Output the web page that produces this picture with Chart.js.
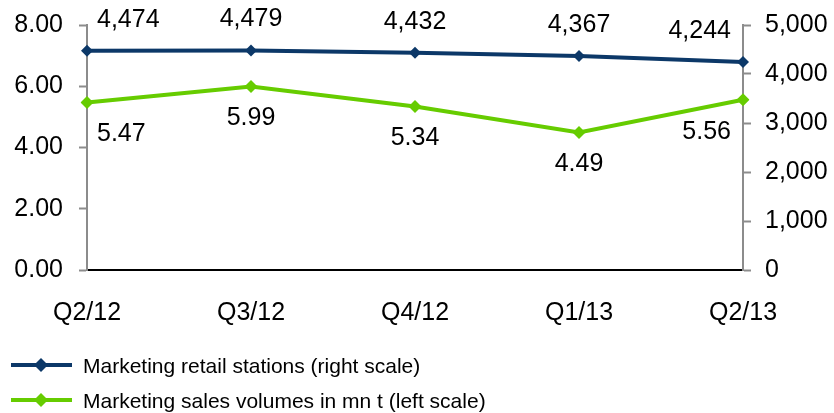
<!DOCTYPE html>
<html>
<head>
<meta charset="utf-8">
<script src="https://cdn.jsdelivr.net/npm/chart.js@4"></script>
<style>
    html, body { margin: 0; padding: 0; background: #fff; }
    canvas { display: block; }
</style>
</head>
<body>
<canvas id="marketingChart" width="834" height="413"></canvas>
<script>
const quarters = ['Q2/12', 'Q3/12', 'Q4/12', 'Q1/13', 'Q2/13'];
const retailStations = [4474, 4479, 4432, 4367, 4244];
const salesVolumes = [5.47, 5.99, 5.34, 4.49, 5.56];
const seriesNames = ['Marketing retail stations (right scale)', 'Marketing sales volumes in mn t (left scale)'];

const navy = 'rgb(12, 56, 104)';
const lime = 'rgb(102, 204, 0)';
const axisGrey = '#8c8c8c';
const fontFamily = '"Liberation Sans", Arial, sans-serif';

Chart.defaults.font.family = fontFamily;
Chart.defaults.font.size = 25;
Chart.defaults.color = '#000';

// fixed widths for the value axes, and no extra room asked for the end labels
function fixYAxis(width) {
    return scale => {
        scale.width = width;
        scale.paddingTop = 0;
        scale.paddingBottom = 0;
    };
}

// value labels above the navy line and below the green one, kept inside the plot
const valueLabels = {
    id: 'valueLabels',
    afterDatasetsDraw(chart) {
        const ctx = chart.ctx;
        const area = chart.chartArea;
        ctx.save();
        ctx.font = '25px ' + fontFamily;
        ctx.fillStyle = '#000';
        ctx.textBaseline = 'middle';
        ctx.textAlign = 'left';
        chart.data.datasets.forEach((ds, di) => {
            const meta = chart.getDatasetMeta(di);
            meta.data.forEach((pt, i) => {
                const text = ds.labelFormat(ds.data[i]);
                const w = ctx.measureText(text).width;
                let x = pt.x - w / 2;
                if (x < area.left + 10) x = area.left + 10;
                if (x + w > area.right - 12) x = area.right - 12 - w;
                const y = pt.y + ds.labelOffset;
                ctx.fillText(text, x, y);
            });
        });
        ctx.restore();
    }
};

// legend stacked under the plot: line with diamond, then the series name
const lineLegend = {
    id: 'lineLegend',
    afterDraw(chart) {
        const ctx = chart.ctx;
        ctx.save();
        ctx.font = '21px ' + fontFamily;
        ctx.textBaseline = 'middle';
        chart.data.datasets.forEach((ds, i) => {
            const y = 365 + i * 35;
            ctx.strokeStyle = ds.borderColor;
            ctx.lineWidth = 4;
            ctx.beginPath();
            ctx.moveTo(11, y);
            ctx.lineTo(72, y);
            ctx.stroke();
            ctx.fillStyle = ds.borderColor;
            ctx.beginPath();
            ctx.moveTo(41, y - 7);
            ctx.lineTo(48, y);
            ctx.lineTo(41, y + 7);
            ctx.lineTo(34, y);
            ctx.closePath();
            ctx.fill();
            ctx.fillStyle = '#000';
            ctx.fillText(seriesNames[i], 83, y + 2);
        });
        ctx.restore();
    }
};

new Chart(document.getElementById('marketingChart'), {
    type: 'line',
    data: {
        labels: quarters,
        datasets: [{
            label: seriesNames[0],
            data: retailStations,
            yAxisID: 'yRight',
            borderColor: navy,
            backgroundColor: navy,
            borderWidth: 4,
            pointStyle: 'rectRot',
            pointRadius: 6,
            pointBorderWidth: 0,
            tension: 0,
            labelOffset: -31,
            labelFormat: v => v.toLocaleString('en-US')
        },
        {
            label: seriesNames[1],
            data: salesVolumes,
            yAxisID: 'yLeft',
            borderColor: lime,
            backgroundColor: lime,
            borderWidth: 4,
            pointStyle: 'rectRot',
            pointRadius: 6.5,
            pointBorderWidth: 0,
            tension: 0,
            labelOffset: 32,
            labelFormat: v => v.toFixed(2)
        }]
    },
    plugins: [valueLabels, lineLegend],
    options: {
        responsive: false,
        animation: false,
        layout: {
            padding: { top: 25, left: 0, right: 0, bottom: 83 }
        },
        plugins: {
            legend: { display: false },
            tooltip: { enabled: false }
        },
        scales: {
            x: {
                offset: false,
                afterFit: scale => { scale.height = 60; },
                grid: { display: true, drawOnChartArea: false, drawTicks: false },
                border: { display: true, color: '#000', width: 2 },
                ticks: { padding: 28, maxRotation: 0, autoSkip: false }
            },
            yLeft: {
                position: 'left',
                min: 0,
                max: 8,
                afterFit: fixYAxis(87),
                grid: { drawOnChartArea: false, drawTicks: true, tickLength: 8, tickColor: axisGrey, tickWidth: 2 },
                border: { display: true, color: axisGrey, width: 2 },
                ticks: {
                    stepSize: 2,
                    padding: 16,
                    callback: v => v.toFixed(2)
                }
            },
            yRight: {
                position: 'right',
                min: 0,
                max: 5000,
                afterFit: fixYAxis(91),
                grid: { drawOnChartArea: false, drawTicks: true, tickLength: 8, tickColor: axisGrey, tickWidth: 2 },
                border: { display: true, color: axisGrey, width: 2 },
                ticks: {
                    stepSize: 1000,
                    padding: 14,
                    callback: v => v.toLocaleString('en-US')
                }
            }
        }
    }
});
</script>
</body>
</html>
